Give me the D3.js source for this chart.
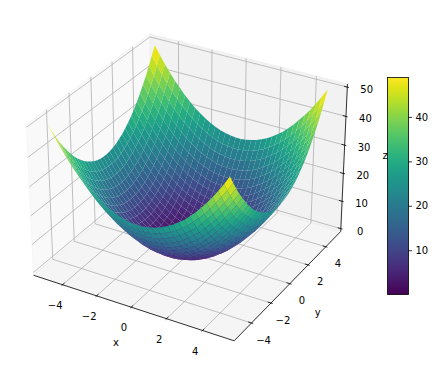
<!DOCTYPE html>
<html>
<head>
<meta charset="utf-8">
<script src="https://cdn.jsdelivr.net/npm/d3@7"></script>
<style>
    html, body { margin: 0; padding: 0; background: #fff; }
    text { font-family: "DejaVu Sans", sans-serif; font-size: 10px; fill: #000; }
</style>
</head>
<body>
<svg id="chart" width="435" height="371"></svg>
<script>
// grid positions (same for both)
const gridValues = [-5, -4.7, -4.39, -4.09, -3.79, -3.48, -3.18, -2.88, -2.58, -2.27, -1.97, -1.67, -1.36, -1.06, -0.76, -0.45, -0.15,
    0.15, 0.45, 0.76, 1.06, 1.36, 1.67, 1.97, 2.27, 2.58, 2.88, 3.18, 3.48, 3.79, 4.09, 4.39, 4.7, 5];

// surface heights for one quarter (x<0, y<0), the bowl is symmetric so the rest is mirrored
const zQuarter = [
    [50.0,47.1,44.3,41.7,39.4,37.2,35.1,33.3,31.6,30.2,28.9,27.8,26.9,26.1,25.6,25.2,25.0],
    [47.1,44.1,41.4,38.8,36.4,34.2,32.2,30.4,28.7,27.2,25.9,24.8,23.9,23.2,22.6,22.3,22.1],
    [44.3,41.4,38.6,36.1,33.7,31.5,29.4,27.6,26.0,24.5,23.2,22.1,21.2,20.4,19.9,19.5,19.3],
    [41.7,38.8,36.1,33.5,31.1,28.9,26.9,25.0,23.4,21.9,20.6,19.5,18.6,17.9,17.3,17.0,16.8],
    [39.4,36.4,33.7,31.1,28.7,26.5,24.5,22.6,21.0,19.5,18.2,17.1,16.2,15.5,14.9,14.6,14.4],
    [37.2,34.2,31.5,28.9,26.5,24.3,22.3,20.4,18.8,17.3,16.0,14.9,14.0,13.3,12.7,12.4,12.2],
    [35.1,32.2,29.4,26.9,24.5,22.3,20.2,18.4,16.8,15.3,14.0,12.9,12.0,11.3,10.7,10.3,10.1],
    [33.3,30.4,27.6,25.0,22.6,20.4,18.4,16.6,14.9,13.5,12.2,11.1,10.2,9.4,8.9,8.5,8.3],
    [31.6,28.7,26.0,23.4,21.0,18.8,16.8,14.9,13.3,11.8,10.5,9.4,8.5,7.8,7.2,6.9,6.7],
    [30.2,27.2,24.5,21.9,19.5,17.3,15.3,13.5,11.8,10.3,9.1,8.0,7.0,6.3,5.7,5.4,5.2],
    [28.9,25.9,23.2,20.6,18.2,16.0,14.0,12.2,10.5,9.1,7.8,6.7,5.7,5.0,4.5,4.1,3.9],
    [27.8,24.8,22.1,19.5,17.1,14.9,12.9,11.1,9.4,8.0,6.7,5.6,4.6,3.9,3.4,3.0,2.8],
    [26.9,23.9,21.2,18.6,16.2,14.0,12.0,10.2,8.5,7.0,5.7,4.6,3.7,3.0,2.4,2.1,1.9],
    [26.1,23.2,20.4,17.9,15.5,13.3,11.3,9.4,7.8,6.3,5.0,3.9,3.0,2.3,1.7,1.3,1.2],
    [25.6,22.6,19.9,17.3,14.9,12.7,10.7,8.9,7.2,5.7,4.5,3.4,2.4,1.7,1.1,0.8,0.6],
    [25.2,22.3,19.5,17.0,14.6,12.4,10.3,8.5,6.9,5.4,4.1,3.0,2.1,1.3,0.8,0.4,0.2],
    [25.0,22.1,19.3,16.8,14.4,12.2,10.1,8.3,6.7,5.2,3.9,2.8,1.9,1.2,0.6,0.2,0.0]
];

const xTicks = [-4, -2, 0, 2, 4];
const yTicks = [-4, -2, 0, 2, 4];
const zTicks = [0, 10, 20, 30, 40, 50];
const colorTicks = [10, 20, 30, 40];
const colorRange = [0.03, 48.87];

// mirror the quarter into the full table
const halfRows = zQuarter.map(r => r.concat(r.slice().reverse()));
const zGrid = halfRows.concat(halfRows.slice().reverse());

var svg = d3.select("#chart");

// 3d view, same camera as mplot3d default (elev 30, azim -60, dist 10)
const elev = 30 * Math.PI / 180, azim = -60 * Math.PI / 180, dist = 10;
const boxX = 1.1428, boxY = 1.1428, boxZ = 0.8571;
const pad = 11 / 48, zPad = 50 / 48;
const xLow = -5.5 - pad, xHigh = 5.5 + pad, zLow = 0 - zPad, zHigh = 50 + zPad;

var sx = d3.scaleLinear().domain([-5.5, 5.5]).range([-boxX / 2, boxX / 2]);
var sy = d3.scaleLinear().domain([-5.5, 5.5]).range([-boxY / 2, boxY / 2]);
var sz = d3.scaleLinear().domain([0, 50]).range([-boxZ / 2, boxZ / 2]);
var px = d3.scaleLinear().domain([0, 1]).range([190, 190 + 1930]);
var py = d3.scaleLinear().domain([0, 1]).range([180, 180 - 1930]);

const right = [-Math.sin(azim), Math.cos(azim), 0];
const up = [-Math.sin(elev) * Math.cos(azim), -Math.sin(elev) * Math.sin(azim), Math.cos(elev)];
const toEye = [Math.cos(elev) * Math.cos(azim), Math.cos(elev) * Math.sin(azim), Math.sin(elev)];

function dot(a, b) { return a[0] * b[0] + a[1] * b[1] + a[2] * b[2]; }

function project(x, y, z) {
    var d = [sx(x), sy(y), sz(z)];
    var w = dist - dot(d, toEye);
    return { x: px(dot(d, right) / w), y: py(dot(d, up) / w), w: w };
}

var line3d = d3.line().x(p => p.x).y(p => p.y);
function path3d(points) {
    return line3d(points.map(p => project(p[0], p[1], p[2])));
}

// panes
const panes = [
    { fill: "#f9f9f9", pts: [[xLow, xLow, zLow], [xLow, xHigh, zLow], [xLow, xHigh, zHigh], [xLow, xLow, zHigh]] },
    { fill: "#f2f2f2", pts: [[xLow, xHigh, zLow], [xHigh, xHigh, zLow], [xHigh, xHigh, zHigh], [xLow, xHigh, zHigh]] },
    { fill: "#f5f5f5", pts: [[xLow, xLow, zLow], [xHigh, xLow, zLow], [xHigh, xHigh, zLow], [xLow, xHigh, zLow]] }
];
svg.append("g").selectAll("path").data(panes).enter().append("path")
    .attr("d", d => path3d(d.pts) + "Z")
    .attr("fill", d => d.fill)
    .attr("stroke", d => d.fill === "#f9f9f9" ? "#f4f4f4" : "#eeeeee")
    .attr("stroke-width", 0.8)
    .attr("stroke-linejoin", "round");

// grid lines
var gridLines = [];
xTicks.forEach(t => gridLines.push([[t, xLow, zLow], [t, xHigh, zLow], [t, xHigh, zHigh]]));
yTicks.forEach(t => gridLines.push([[xHigh, t, zLow], [xLow, t, zLow], [xLow, t, zHigh]]));
zTicks.forEach(t => gridLines.push([[xLow, xLow, t], [xLow, xHigh, t], [xHigh, xHigh, t]]));
svg.append("g").selectAll("path").data(gridLines).enter().append("path")
    .attr("d", d => path3d(d))
    .attr("fill", "none")
    .attr("stroke", "#b0b0b0")
    .attr("stroke-width", 0.8);

// axis lines
const axisLines = [
    [[xLow, xLow, zLow], [xHigh, xLow, zLow]],
    [[xHigh, xLow, zLow], [xHigh, xHigh, zLow]],
    [[xHigh, xHigh, zLow], [xHigh, xHigh, zHigh]]
];
svg.append("g").selectAll("path").data(axisLines).enter().append("path")
    .attr("d", d => path3d(d))
    .attr("fill", "none")
    .attr("stroke", "#000")
    .attr("stroke-width", 0.8);

// tick marks and labels
const tickIn = 0.183, tickOut = 0.092;
var tickLines = [];
xTicks.forEach(t => tickLines.push([[t, xLow + tickIn, zLow], [t, xLow - tickOut, zLow]]));
yTicks.forEach(t => tickLines.push([[xHigh - tickIn, t, zLow], [xHigh + tickOut, t, zLow]]));
zTicks.forEach(t => tickLines.push([[xHigh - tickIn, xHigh, t], [xHigh + tickOut, xHigh, t]]));
svg.append("g").selectAll("path").data(tickLines).enter().append("path")
    .attr("d", d => path3d(d))
    .attr("fill", "none")
    .attr("stroke", "#000")
    .attr("stroke-width", 0.8);

function fmt(v) { return v < 0 ? "\u2212" + (-v) : "" + v; }

var tickLabels = [];
xTicks.forEach(t => { var p = project(t, xLow, zLow); tickLabels.push({ x: p.x - 7.4, y: p.y + 20.7, s: fmt(t) }); });
yTicks.forEach(t => { var p = project(xHigh, t, zLow); tickLabels.push({ x: p.x + 12, y: p.y + 17, s: fmt(t) }); });
zTicks.forEach(t => { var p = project(xHigh, xHigh, t); tickLabels.push({ x: p.x + 19.4, y: p.y + 2.5, s: fmt(t) }); });
tickLabels.push({ x: 116, y: 342.7, s: "x" }, { x: 317.7, y: 312.7, s: "y" }, { x: 385, y: 155, s: "z" });
svg.append("g").selectAll("text").data(tickLabels).enter().append("text")
    .attr("x", d => d.x)
    .attr("y", d => d.y)
    .attr("text-anchor", "middle")
    .attr("dominant-baseline", "central")
    .text(d => d.s);

// surface, far cells first
var color = d3.scaleSequential(d3.interpolateViridis).domain(colorRange);
var cells = [];
for (var i = 0; i < gridValues.length - 1; i++) {
    for (var j = 0; j < gridValues.length - 1; j++) {
        var corners = [[i, j], [i + 1, j], [i + 1, j + 1], [i, j + 1]]
            .map(c => [gridValues[c[0]], gridValues[c[1]], zGrid[c[0]][c[1]]]);
        cells.push({
            pts: corners,
            z: d3.mean(corners, c => c[2]),
            depth: d3.mean(corners, c => project(c[0], c[1], c[2]).w)
        });
    }
}
cells.sort((a, b) => d3.descending(a.depth, b.depth));
svg.append("g").selectAll("path").data(cells).enter().append("path")
    .attr("d", d => path3d(d.pts) + "Z")
    .attr("fill", d => color(d.z));

// colorbar
const barLeft = 387.5, barWidth = 21, barTop = 77.5, barBottom = 294.5;
var barScale = d3.scaleLinear().domain(colorRange).range([barBottom, barTop]);
var defs = svg.append("defs");
var grad = defs.append("linearGradient").attr("id", "viridisBar")
    .attr("x1", 0).attr("x2", 0).attr("y1", 1).attr("y2", 0);
grad.selectAll("stop").data(d3.range(0, 1.0001, 0.05)).enter().append("stop")
    .attr("offset", d => d)
    .attr("stop-color", d => d3.interpolateViridis(d));
svg.append("rect")
    .attr("x", barLeft).attr("y", barTop)
    .attr("width", barWidth).attr("height", barBottom - barTop)
    .attr("fill", "url(#viridisBar)")
    .attr("stroke", "#000")
    .attr("stroke-width", 0.8);
var barAxis = d3.axisRight(barScale).tickValues(colorTicks).tickSize(3.5).tickPadding(3.5);
var barG = svg.append("g")
    .attr("transform", "translate(" + (barLeft + barWidth) + ",0)")
    .call(barAxis);
barG.select(".domain").remove();
barG.selectAll("line").attr("stroke-width", 0.8);
barG.selectAll("text").attr("font-family", null).attr("font-size", null);
</script>
</body>
</html>
